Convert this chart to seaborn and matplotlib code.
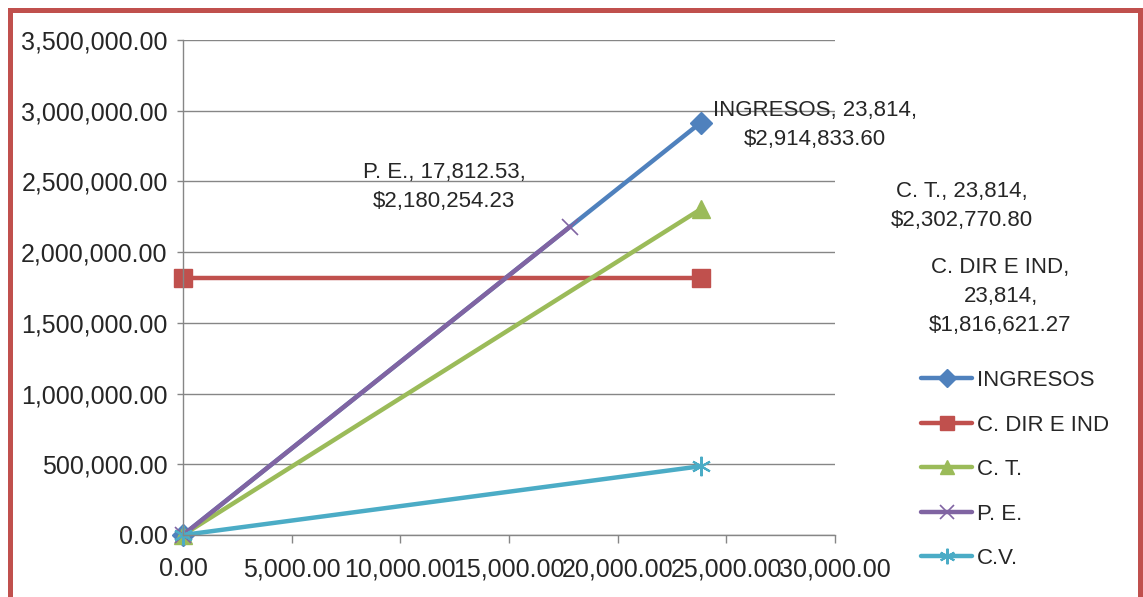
import numpy as np
import pandas as pd
import matplotlib
matplotlib.use("Agg")
import matplotlib.pyplot as plt
import seaborn as sns
from matplotlib.ticker import FuncFormatter, MultipleLocator
from matplotlib.patches import Rectangle

# datos del punto de equilibrio
series = ["INGRESOS", "C. DIR E IND", "C. T.", "P. E.", "C.V."]
x_ingresos = [0, 23814]
y_ingresos = [0, 2914833.60]
x_cdir = [0, 23814]
y_cdir = [1816621.27, 1816621.27]
x_ct = [0, 23814]
y_ct = [0, 2302770.80]
x_pe = [0, 17812.53]
y_pe = [0, 2180254.23]
x_cv = [0, 23814]
y_cv = [0, 486149.53]

etiquetas = {
    "INGRESOS": "INGRESOS, 23,814,\n$2,914,833.60",
    "C. DIR E IND": "C. DIR E IND,\n23,814,\n$1,816,621.27",
    "C. T.": "C. T., 23,814,\n$2,302,770.80",
    "P. E.": "P. E., 17,812.53,\n$2,180,254.23",
}

sns.set_style("white")
plt.rcParams['font.family'] = ['Liberation Sans', 'DejaVu Sans']
fs_ticks = 18
fs = 16

fig = plt.figure(figsize=(11.43, 5.97), dpi=100)
ax = fig.add_axes([183/1143, 62/597, 652/1143, 495/597])

datos = {
    "INGRESOS": (x_ingresos, y_ingresos, "#4F81BD", "D", 11, 1),
    "C. DIR E IND": (x_cdir, y_cdir, "#C0504D", "s", 13, 1),
    "C. T.": (x_ct, y_ct, "#9BBB59", "^", 13, 1),
    "P. E.": (x_pe, y_pe, "#8064A2", "x", 12, 1.2),
    "C.V.": (x_cv, y_cv, "#4BACC6", (6, 2, 0), 14, 1.5),
}

for nombre in series:
    xs, ys, col, mk, ms, mew = datos[nombre]
    df = pd.DataFrame({"x": xs, "y": ys})
    sns.lineplot(data=df, x="x", y="y", ax=ax, color=col, linewidth=3.2,
                 marker=mk, markersize=ms, markeredgecolor=col,
                 markeredgewidth=mew, label=nombre, clip_on=False)

ax.set_xlim(0, 30000)
ax.set_ylim(0, 3500000)
ax.xaxis.set_major_locator(MultipleLocator(5000))
ax.yaxis.set_major_locator(MultipleLocator(500000))
fmt = FuncFormatter(lambda v, p: "{:,.2f}".format(v))
ax.xaxis.set_major_formatter(fmt)
ax.yaxis.set_major_formatter(fmt)
ax.set_xlabel("")
ax.set_ylabel("")
ax.grid(axis="y", color="#868686", linewidth=1)
ax.set_axisbelow(True)
for s in ["top", "right"]:
    ax.spines[s].set_visible(False)
for s in ["left", "bottom"]:
    ax.spines[s].set_color("#868686")
    ax.spines[s].set_linewidth(1)
ax.tick_params(axis="x", direction="out", length=6, width=1, color="#868686",
               labelsize=fs_ticks, pad=10, bottom=True)
ax.tick_params(axis="y", direction="out", length=4, width=1, color="#868686",
               labelsize=fs_ticks, pad=7, left=True)

# etiquetas de datos
offsets = {
    "INGRESOS": (23814, 2914833.60, 114, -2),
    "P. E.": (17812.53, 2180254.23, -126, 40),
    "C. T.": (23814, 2302770.80, 261, 3),
    "C. DIR E IND": (23814, 1816621.27, 300, -18),
}
for nombre, (px, py, dx, dy) in offsets.items():
    ax.annotate(etiquetas[nombre], xy=(px, py), xytext=(dx, dy),
                textcoords="offset pixels", ha="center", va="center",
                fontsize=fs, linespacing=1.5, annotation_clip=False)

ax.get_legend().remove()
h, l = ax.get_legend_handles_labels()
fig.legend(h, l, loc="upper left", bbox_to_anchor=(921/1143, 1 - 370/597),
           frameon=False, fontsize=fs, handlelength=2.3, handletextpad=0.2,
           labelspacing=1.06, borderpad=0, borderaxespad=0, markerscale=0.8)

# marco rojo
marco = Rectangle((10/1143, -10/597), 1130/1143, 597/597,
                  transform=fig.transFigure, fill=False,
                  edgecolor="#C0504D", linewidth=3.6)
fig.patches.append(marco)

fig.savefig("out.png", dpi=100)
